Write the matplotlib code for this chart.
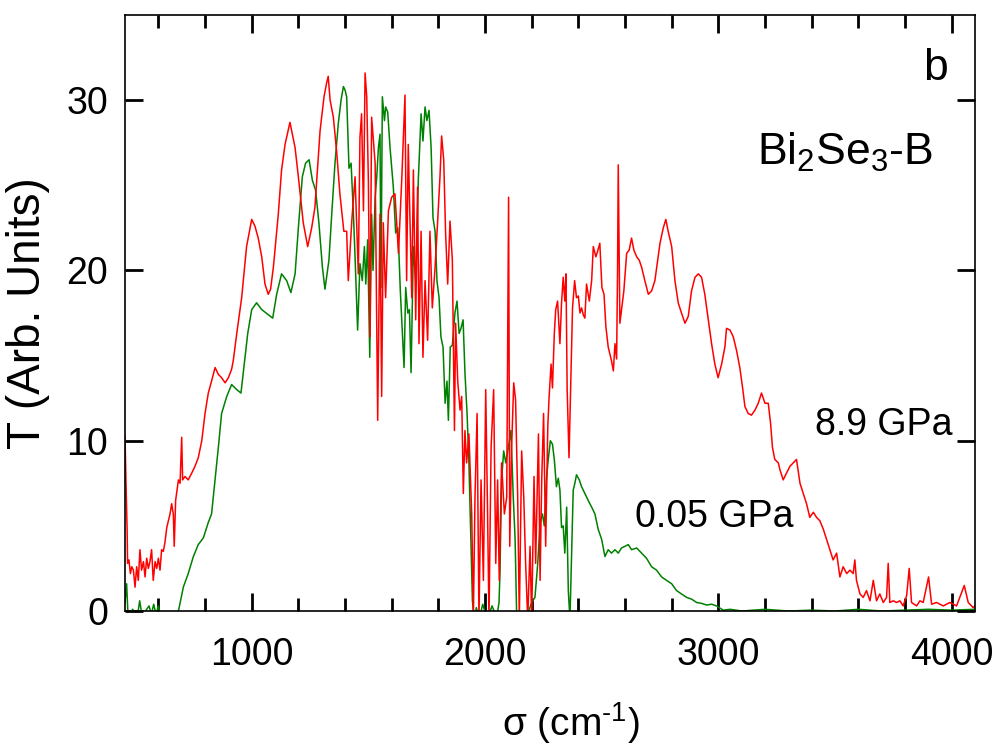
import matplotlib
matplotlib.use("Agg")
import matplotlib.pyplot as plt
from matplotlib.ticker import MultipleLocator

plt.rcParams['font.family'] = ['Liberation Sans', 'DejaVu Sans']
plt.rcParams['mathtext.fontset'] = 'custom'
plt.rcParams['mathtext.rm'] = 'Liberation Sans'
plt.rcParams['mathtext.it'] = 'Liberation Sans:italic'
plt.rcParams['mathtext.bf'] = 'Liberation Sans:bold'

# ---------------- data ----------------
red_x = [457, 461, 466, 468, 474, 480, 486, 493, 500, 507, 514, 521, 528, 536, 543, 550, 557, 564,
         571, 578, 586, 593, 600, 607, 614, 621, 628, 636, 643, 650, 657, 664, 668, 674, 680, 686,
         693, 700, 704, 714, 728, 743, 757, 771, 786, 800, 814, 828, 843, 857, 871, 886, 900, 914,
         921, 936, 957, 978, 1000, 1014, 1028, 1043, 1057, 1071, 1081, 1093, 1114, 1128, 1143, 1164,
         1186, 1200, 1221, 1240, 1257, 1271, 1293, 1310, 1321, 1328, 1336, 1350, 1364, 1378, 1395,
         1407, 1414, 1429, 1443, 1457, 1464, 1471, 1479, 1486, 1493, 1500, 1507, 1514, 1529, 1540,
         1550, 1557, 1564, 1574, 1586, 1600, 1614, 1629, 1643, 1657, 1664, 1671, 1686, 1693, 1703,
         1711, 1717, 1726, 1734, 1743, 1754, 1764, 1774, 1786, 1797, 1807, 1814, 1823, 1831, 1840,
         1850, 1860, 1869, 1874, 1883, 1893, 1900, 1907, 1914, 1921, 1931, 1943, 1950, 1957, 1966,
         1974, 1983, 1993, 2003, 2011, 2017, 2026, 2037, 2046, 2054, 2061, 2071, 2083, 2093, 2101,
         2106, 2114, 2123, 2131, 2140, 2147, 2157, 2166, 2174, 2183, 2193, 2200, 2210, 2217, 2229,
         2236, 2243, 2251, 2260, 2269, 2274, 2283, 2289, 2297, 2303, 2311, 2321, 2328, 2335, 2342,
         2347, 2352, 2360, 2367, 2375, 2384, 2392, 2400, 2407, 2414, 2421, 2428, 2435, 2447, 2457,
         2464, 2475, 2482, 2492, 2501, 2510, 2518, 2528, 2535, 2542, 2550, 2557, 2564, 2568, 2571,
         2574, 2578, 2585, 2595, 2607, 2618, 2628, 2638, 2650, 2661, 2671, 2685, 2700, 2714, 2728,
         2738, 2750, 2764, 2775, 2785, 2800, 2814, 2828, 2842, 2857, 2871, 2885, 2900, 2914, 2928,
         2942, 2957, 2971, 2985, 2999, 3014, 3028, 3035, 3050, 3064, 3078, 3092, 3104, 3114, 3128,
         3142, 3157, 3171, 3185, 3200, 3214, 3224, 3232, 3242, 3257, 3264, 3278, 3292, 3307, 3321,
         3335, 3350, 3364, 3378, 3392, 3407, 3421, 3435, 3450, 3464, 3478, 3492, 3507, 3521, 3535,
         3550, 3564, 3578, 3585, 3592, 3607, 3621, 3635, 3650, 3664, 3678, 3692, 3707, 3721, 3728,
         3735, 3750, 3764, 3778, 3792, 3807, 3818, 3828, 3850, 3864, 3878, 3901, 3914, 3935, 3964,
         3992, 4021, 4054, 4071, 4092, 4100]
red_y = [10.3, 7.7, 4.8, 2.8, 3.0, 2.2, 2.6, 2.4, 1.4, 2.6, 1.8, 3.6, 2.4, 2.9, 2.0, 3.1, 2.5, 2.9,
         3.6, 1.8, 2.9, 2.5, 3.1, 2.4, 3.6, 3.5, 4.0, 4.9, 5.3, 5.7, 6.3, 5.7, 3.8, 6.5, 7.1, 7.7,
         7.5, 10.2, 7.7, 7.9, 7.7, 8.1, 8.5, 9.0, 10.0, 11.6, 12.8, 13.5, 14.3, 13.9, 13.7, 13.4, 13.7, 14.2,
         14.7, 16.3, 18.4, 21.4, 23.0, 22.6, 21.9, 20.8, 19.2, 18.6, 18.9, 20.2, 23.3, 25.9, 27.4, 28.7,
         27.2, 25.5, 22.8, 21.4, 22.5, 23.7, 28.2, 30.2, 31.0, 31.4, 30.0, 29.0, 27.0, 24.5, 22.3,
         22.3, 19.4, 22.9, 25.5, 19.8, 27.8, 29.2, 23.5, 31.6, 30.2, 25.3, 16.1, 29.0, 26.3, 11.2,
         23.3, 12.6, 22.8, 18.4, 23.5, 24.3, 24.5, 21.0, 25.3, 30.3, 19.4, 27.4, 18.4, 25.9, 17.1,
         24.9, 15.7, 22.3, 14.9, 19.4, 15.9, 22.3, 17.8, 20.2, 22.9, 25.5, 27.9, 26.5, 22.2, 19.2,
         22.9, 20.6, 10.6, 16.9, 13.5, 11.8, 12.6, 6.9, 10.6, 8.7, 10.4, 5.7, -0.5, 6.7, 11.6,
         -0.5, 7.7, 1.8, 13.0, 5.7, -0.5, 9.6, 13.0, 2.8, 7.7, 1.8, 8.7, 5.7, 6.7, 24.3,
         3.8, 9.6, 13.4, 12.4, 6.7, -0.5, 9.4, 6.7, 2.8, -0.5, 3.8, -0.5, 7.9, 2.8, 10.4,
         1.8, 7.7, 11.6, 3.8, 10.8, 12.4, 14.5, 13.1, 16.3, 17.7, 18.2, 15.7, 18.1, 19.6, 18.2,
         19.8, 13.0, 9.0, 13.0, 17.8, 19.4, 18.4, 18.5, 17.5, 17.8, 17.4, 17.2, 19.2, 18.2, 19.4,
         21.4, 20.8, 21.1, 21.6, 19.0, 18.6, 16.7, 15.5, 15.1, 14.7, 14.1, 15.7, 14.8, 20.0, 26.2,
         22.0, 16.9, 17.7, 18.8, 21.0, 21.2, 21.9, 21.2, 20.8, 20.6, 20.2, 19.4, 18.6, 18.8, 19.4,
         20.4, 21.6, 22.5, 23.0, 22.3, 21.4, 19.4, 18.1, 17.5, 16.9, 17.3, 18.8, 19.6, 19.8, 19.6,
         18.6, 17.1, 15.7, 14.5, 13.7, 14.5, 15.5, 16.6, 16.5, 16.1, 15.3, 14.3, 13.1, 12.0, 11.6,
         11.5, 11.8, 12.2, 12.8, 12.2, 12.2, 11.0, 9.6, 8.9, 8.7, 8.3, 7.7, 8.1, 8.5, 8.7,
         8.9, 7.5, 6.9, 6.3, 5.5, 5.8, 5.5, 5.3, 4.8, 4.2, 3.6, 3.0, 3.4, 2.0, 2.6,
         2.2, 2.4, 2.2, 3.0, 1.8, 1.0, 0.8, 1.2, 0.6, 1.8, 0.6, 1.0, 0.5, 0.8, 2.8,
         0.5, 0.6, 0.5, 0.6, 0.3, 0.9, 2.5, 0.5, 0.3, 0.6, 0.5, 2.0, 0.4, 0.5, 0.3,
         0.5, 0.3, 1.5, 0.5, 0.2, 0.3]

green_x = [457, 464, 470, 490, 510, 520, 530, 560, 570, 580, 590, 600, 610, 640, 670, 686, 707, 728,
           750, 771, 793, 814, 828, 843, 857, 871, 893, 914, 936, 954, 968, 983, 1000, 1021, 1043,
           1071, 1090, 1107, 1128, 1150, 1168, 1186, 1200, 1217, 1231, 1246, 1260, 1274, 1288, 1303,
           1314, 1331, 1343, 1357, 1371, 1383, 1393, 1400, 1407, 1417, 1426, 1436, 1443, 1454, 1464,
           1474, 1483, 1489, 1497, 1506, 1514, 1520, 1529, 1536, 1543, 1550, 1554, 1560, 1569, 1574,
           1583, 1593, 1607, 1617, 1626, 1631, 1637, 1646, 1653, 1660, 1669, 1676, 1683, 1693, 1703,
           1714, 1726, 1734, 1743, 1751, 1760, 1769, 1777, 1786, 1794, 1803, 1811, 1820, 1829, 1837,
           1843, 1851, 1860, 1871, 1880, 1889, 1897, 1906, 1914, 1923, 1931, 1940, 1946, 1954, 1963,
           1975, 1990, 2010, 2030, 2050, 2060, 2064, 2071, 2080, 2089, 2100, 2111, 2121, 2129, 2136,
           2160, 2180, 2200, 2214, 2226, 2236, 2246, 2254, 2263, 2271, 2280, 2289, 2297, 2306, 2314,
           2321, 2328, 2335, 2342, 2350, 2357, 2364, 2371, 2378, 2385, 2392, 2404, 2414, 2428, 2442,
           2457, 2471, 2485, 2500, 2514, 2528, 2542, 2557, 2571, 2585, 2600, 2614, 2628, 2650, 2671,
           2692, 2714, 2735, 2757, 2778, 2800, 2821, 2842, 2864, 2885, 2907, 2928, 2950, 2971, 2992,
           3021, 3050, 3100, 3200, 3300, 3400, 3500, 3600, 3700, 3800, 3900, 4000, 4100]
green_y = [0.5, 1.6, -0.3, 0.1, -0.3, 0.6, -0.3, 0.3, -0.2, 0.4, -0.2, 0.3, -0.3, -0.5, -0.3, 0.0, 1.4, 2.2,
           3.2, 3.9, 4.3, 5.2, 5.7, 7.7, 9.6, 11.6, 12.6, 13.3, 13.0, 12.8, 14.5, 16.3, 17.7, 18.1, 17.7,
           17.4, 17.2, 18.6, 19.8, 19.4, 18.7, 19.8, 22.5, 25.5, 26.3, 26.5, 25.3, 24.7, 22.8, 20.2,
           18.9, 20.6, 23.3, 26.3, 28.6, 30.0, 30.8, 30.6, 30.2, 26.0, 26.3, 23.3, 20.8, 16.5, 20.4,
           19.4, 21.4, 19.2, 21.8, 14.9, 23.3, 20.0, 24.3, 25.5, 27.2, 28.0, 19.0, 30.2, 28.8, 29.6,
           29.3, 27.2, 24.9, 22.2, 22.5, 21.0, 18.8, 16.3, 14.3, 19.0, 17.5, 17.7, 14.0, 21.4, 19.4,
           25.3, 29.2, 27.6, 29.6, 28.8, 29.4, 27.2, 23.1, 22.3, 19.4, 18.4, 16.1, 15.5, 12.2, 13.5,
           11.2, 15.5, 15.6, 17.5, 18.2, 16.3, 16.6, 17.1, 14.0, 11.6, 8.7, 3.8, 0.6, -0.5, 0.2,
           -0.5, 0.4, -0.5, 0.3, -0.4, 0.5, 2.2, 7.7, 9.4, 8.7, 9.6, 10.6, 6.7, 4.2, -0.5,
           -0.5, -0.3, 0.5, 0.8, 2.8, 5.2, 5.7, 5.0, 7.7, 8.9, 10.0, 9.8, 8.9, 7.3, 7.8,
           7.1, 4.9, 5.0, 3.4, 6.1, 1.2, -0.5, 3.2, 7.1, 7.5, 8.0, 7.7, 7.3, 6.9, 6.5,
           6.1, 5.7, 4.8, 4.2, 3.2, 3.6, 3.4, 3.6, 3.4, 3.7, 3.8, 3.9, 3.6, 3.7, 3.4,
           3.1, 2.6, 2.4, 2.0, 1.8, 1.6, 1.2, 1.0, 0.8, 0.7, 0.5, 0.45, 0.35, 0.4, 0.3,
           0.05, 0.1, 0.0, 0.1, 0.0, 0.05, 0.0, 0.1, 0.0, 0.05, 0.1, 0.05, 0.1]

x_ticks = [1000, 2000, 3000, 4000]
y_ticks = [0, 10, 20, 30]

# ---------------- figure ----------------
fig = plt.figure(figsize=(10, 7.51), dpi=100)
ax = fig.add_axes([0.125, 0.1864, 0.85, 0.7936])

ax.plot(green_x, green_y, color='#008000', lw=1.1)
ax.plot(red_x, red_y, color='#ff0000', lw=1.1)

ax.set_xlim(457, 4100)
ax.set_ylim(0, 35)
ax.set_xticks(x_ticks)
ax.set_yticks(y_ticks)
ax.xaxis.set_minor_locator(MultipleLocator(200))

ax.tick_params(axis='both', which='both', direction='in', top=True, right=True)
ax.tick_params(axis='both', which='major', length=13, width=2.0, labelsize=27)
ax.tick_params(axis='x', which='major', pad=19)
ax.tick_params(axis='y', which='major', pad=12)
ax.tick_params(axis='x', which='minor', length=9.5, width=2.0)
for s in ax.spines.values():
    s.set_linewidth(1.2)

ax.set_xlabel('σ (cm$^{\\mathregular{\\text{-}1}}$)', fontsize=28)
ax.xaxis.set_label_coords(0.525, -0.150)
ax.set_ylabel('T (Arb. Units)', fontsize=33)
ax.yaxis.set_label_coords(-0.088, 0.5)

ax.text(0.968, 0.891, 'b', transform=ax.transAxes, ha='right', va='baseline', fontsize=32)
ax.text(0.951, 0.748, 'Bi$_\\mathregular{2}$Se$_\\mathregular{3}$-B', transform=ax.transAxes,
        ha='right', va='baseline', fontsize=32)
ax.text(0.973, 0.295, '8.9 GPa', transform=ax.transAxes, ha='right', va='baseline', fontsize=27)
ax.text(0.600, 0.141, '0.05 GPa', transform=ax.transAxes, ha='left', va='baseline', fontsize=27)

fig.savefig('out.png', dpi=100)
